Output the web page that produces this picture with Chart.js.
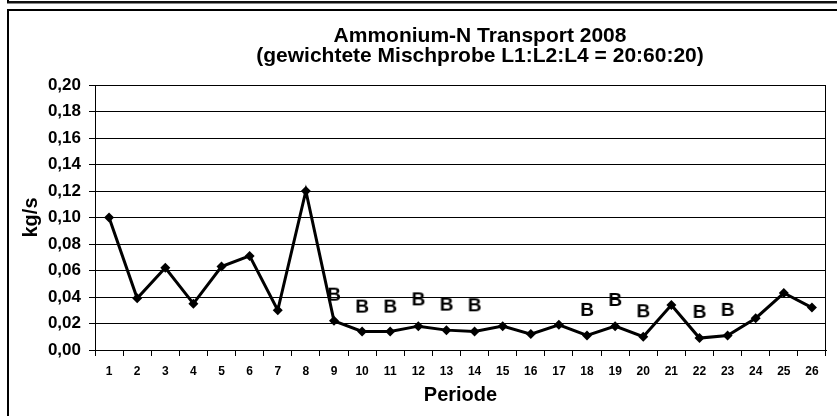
<!DOCTYPE html>
<html>
<head>
<meta charset="utf-8">
<script src="https://cdn.jsdelivr.net/npm/chart.js@4/dist/chart.umd.min.js"></script>
<style>
  html, body { margin: 0; padding: 0; background: #fff; }
  #wrap { position: relative; width: 837px; height: 416px; overflow: hidden; background: #fff; }
  #c { position: absolute; left: 0; top: 0; }
  .frame { position: absolute; box-sizing: border-box; pointer-events: none; }
</style>
</head>
<body>
<div id="wrap">
  <canvas id="c" width="837" height="416"></canvas>
  <div class="frame" style="left:7px; top:-20px; width:900px; height:23px; border:2px solid #000; border-bottom-color:#111; box-shadow:0 1px 0 #888;"></div>
  <div class="frame" style="left:7px; top:9px; width:900px; height:500px; border:2px solid #000;"></div>
</div>
<script>
const titleLines = ['Ammonium-N Transport 2008', '(gewichtete Mischprobe L1:L2:L4 = 20:60:20)'];
const xTitle = 'Periode';
const yTitle = 'kg/s';
const periods = ['1','2','3','4','5','6','7','8','9','10','11','12','13','14','15','16','17','18','19','20','21','22','23','24','25','26'];
const transport = [0.100, 0.039, 0.062, 0.035, 0.063, 0.071, 0.030, 0.120, 0.022, 0.014, 0.014, 0.018, 0.015, 0.014, 0.018, 0.012, 0.019, 0.011, 0.018, 0.010, 0.034, 0.009, 0.011, 0.024, 0.043, 0.032];
const bMarkers = [null, null, null, null, null, null, null, null, 0.0425, 0.0335, 0.0335, 0.039, 0.035, 0.0345, null, null, null, 0.031, 0.0385, 0.030, null, 0.0295, 0.031, null, null, null];
const bText = 'B';
const yTicksMin = 0, yTicksMax = 0.20, yStep = 0.02;

const FONT = '"Liberation Sans", Arial, Helvetica, sans-serif';

// "B" marker as a point style image
const bImg = document.createElement('canvas');
bImg.width = 26; bImg.height = 26;
(function(){
  const g = bImg.getContext('2d');
  g.fillStyle = '#000';
  g.font = 'bold 19px ' + FONT;
  g.textAlign = 'center';
  g.textBaseline = 'alphabetic';
  g.fillText(bText, 13, 13 + 6.8);
})();

const plotBorder = {
  id: 'plotBorder',
  afterLayout(chart) {
    // title block centred a little right of the canvas centre, as in the reference
    const tb = chart.titleBlock;
    if (tb) { const w = tb.right - tb.left; tb.left = 960 - tb.right; tb.width = tb.right - tb.left; }
  },
  beforeDatasetsDraw(chart) {
    const {ctx, chartArea: a} = chart;
    ctx.save();
    ctx.strokeStyle = '#000';
    ctx.lineWidth = 1;
    ctx.beginPath();
    ctx.moveTo(Math.round(a.right) - 0.5, a.top);
    ctx.lineTo(Math.round(a.right) - 0.5, a.bottom);
    ctx.stroke();
    ctx.restore();
  }
};

new Chart(document.getElementById('c'), {
  type: 'line',
  data: {
    labels: periods,
    datasets: [
      {
        data: transport,
        borderColor: '#000',
        backgroundColor: '#000',
        borderWidth: 3,
        tension: 0,
        pointStyle: 'rectRot',
        pointRadius: 5,
        pointBorderWidth: 0,
        pointBackgroundColor: '#000',
        fill: false
      },
      {
        data: bMarkers,
        showLine: false,
        pointStyle: bImg,
        pointRadius: 10,
        clip: false
      }
    ]
  },
  options: {
    responsive: false,
    animation: false,
    devicePixelRatio: 1,
    layout: { padding: { top: 0, left: 10, right: 4, bottom: 0 } },
    plugins: {
      legend: { display: false },
      tooltip: { enabled: false },
      title: {
        display: true,
        text: titleLines,
        color: '#000',
        font: { family: FONT, size: 21, weight: 'bold', lineHeight: '20px' },
        padding: { top: 26, bottom: 19 }
      }
    },
    scales: {
      x: {
        offset: true,
        grid: { display: true, drawOnChartArea: false, drawTicks: true, tickLength: 6, color: '#000', offset: true },
        border: { display: true, color: '#000', width: 1 },
        ticks: { color: '#000', font: { family: FONT, size: 12, weight: 'bold' }, padding: 8, maxRotation: 0, autoSkip: false },
        title: { display: true, text: xTitle, color: '#000', font: { family: FONT, size: 20, weight: 'bold' }, padding: { top: 0, bottom: 9 } },
        afterFit(scale) { scale.height = 66; }
      },
      y: {
        min: yTicksMin,
        max: yTicksMax,
        grid: { color: '#000', lineWidth: 1, drawTicks: true, tickLength: 6 },
        border: { display: true, color: '#000', width: 1 },
        ticks: {
          stepSize: yStep,
          color: '#000',
          padding: 8,
          font: { family: FONT, size: 17, weight: 'bold' },
          callback: (v) => Number(v).toFixed(2).replace('.', ',')
        },
        title: { display: true, text: yTitle, color: '#000', font: { family: FONT, size: 20, weight: 'bold' }, padding: { top: 9, bottom: 0 } },
        afterFit(scale) { scale.width = 85; }
      }
    }
  },
  plugins: [plotBorder]
});
</script>
</body>
</html>
